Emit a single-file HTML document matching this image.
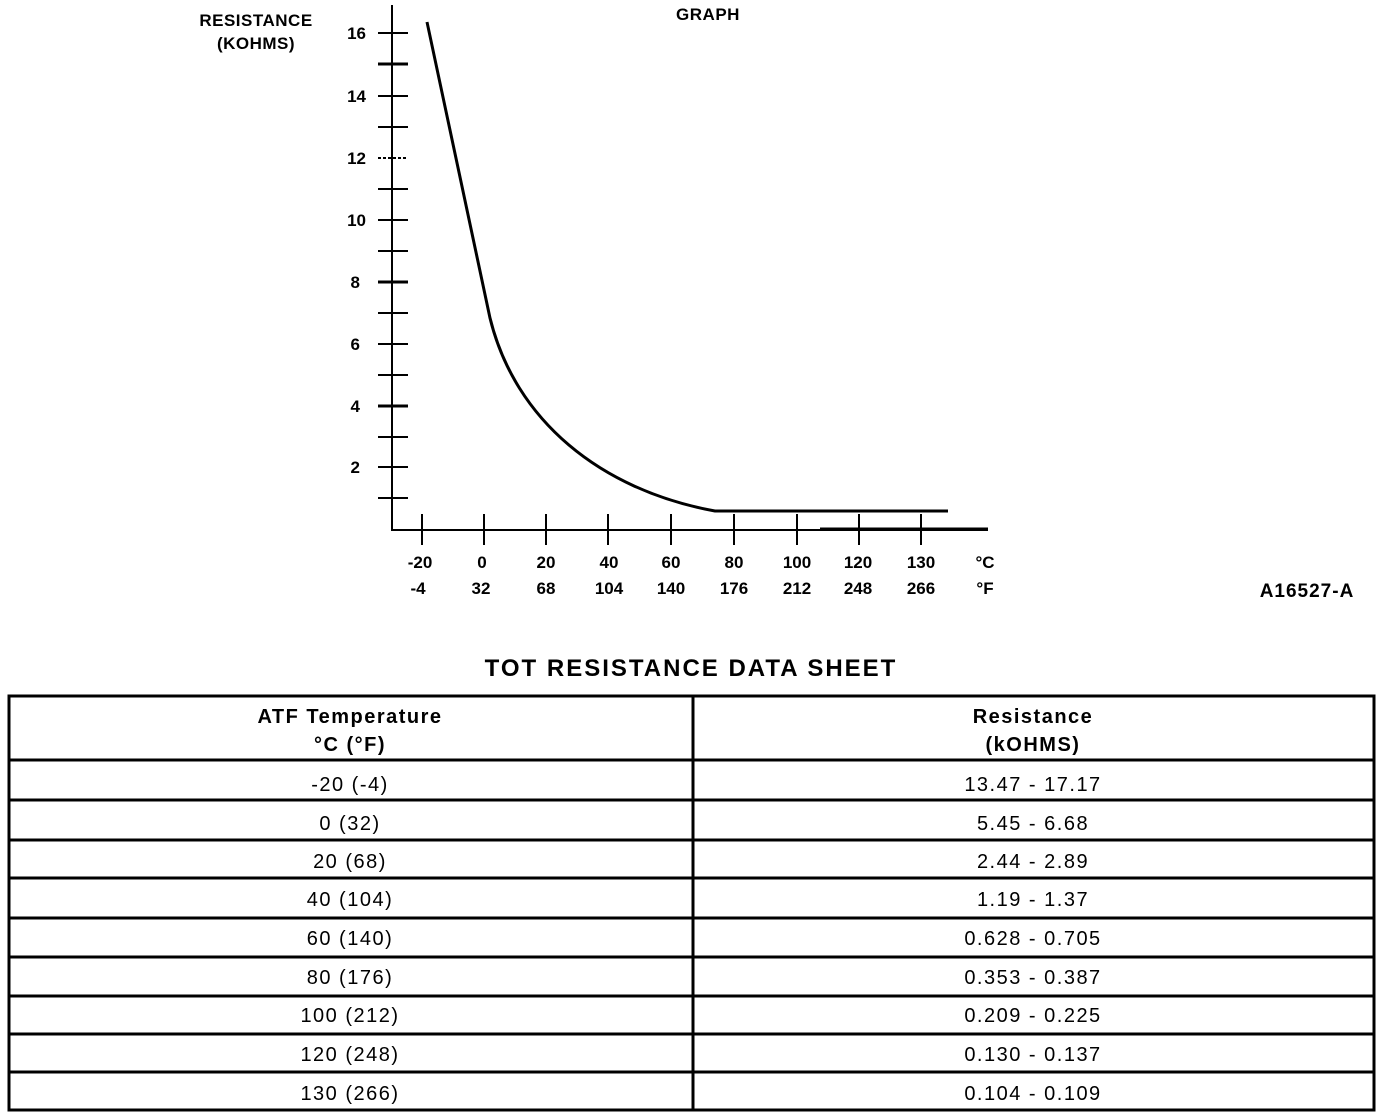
<!DOCTYPE html>
<html><head><style>
html,body{margin:0;padding:0;background:#fff;}
svg{display:block;}
text{font-family:"Liberation Sans",sans-serif;fill:#000;}
</style></head><body>
<svg width="1392" height="1120" viewBox="0 0 1392 1120" xmlns="http://www.w3.org/2000/svg">
<g font-size="17" font-weight="bold" letter-spacing="0.5">
<text x="256" y="26" text-anchor="middle">RESISTANCE</text>
<text x="256" y="49" text-anchor="middle">(KOHMS)</text>
<text x="708" y="20" text-anchor="middle">GRAPH</text>
</g>
<g stroke="#000" stroke-width="2" fill="none">
<line x1="392" y1="5" x2="392" y2="531"/>
<line x1="391" y1="530" x2="988" y2="530"/>
<line x1="378" y1="33" x2="408" y2="33"/>
<line x1="378" y1="64" x2="408" y2="64" stroke-width="3"/>
<line x1="378" y1="96" x2="408" y2="96"/>
<line x1="378" y1="127" x2="408" y2="127"/>
<line x1="378" y1="158" x2="408" y2="158" stroke-dasharray="3,2"/>
<line x1="378" y1="189" x2="408" y2="189"/>
<line x1="378" y1="220" x2="408" y2="220"/>
<line x1="378" y1="251" x2="408" y2="251"/>
<line x1="378" y1="282" x2="408" y2="282" stroke-width="3"/>
<line x1="378" y1="313" x2="408" y2="313"/>
<line x1="378" y1="344" x2="408" y2="344"/>
<line x1="378" y1="375" x2="408" y2="375"/>
<line x1="378" y1="406" x2="408" y2="406" stroke-width="3"/>
<line x1="378" y1="437" x2="408" y2="437"/>
<line x1="378" y1="467" x2="408" y2="467"/>
<line x1="378" y1="498" x2="408" y2="498"/>
<line x1="422" y1="514" x2="422" y2="545"/>
<line x1="484" y1="514" x2="484" y2="545"/>
<line x1="546" y1="514" x2="546" y2="545"/>
<line x1="608" y1="514" x2="608" y2="545"/>
<line x1="671" y1="514" x2="671" y2="545"/>
<line x1="734" y1="514" x2="734" y2="545"/>
<line x1="797" y1="514" x2="797" y2="545"/>
<line x1="859" y1="514" x2="859" y2="545"/>
<line x1="921" y1="514" x2="921" y2="545"/>
<line x1="820" y1="529" x2="988" y2="529" stroke-width="3"/>
<path d="M427,22 L490,318 C515,420 600,490 715,511 L948,511" stroke-width="3"/>
</g>
<g font-size="17" font-weight="bold" text-anchor="end">
<text x="366" y="39">16</text><text x="366" y="102">14</text><text x="366" y="164">12</text>
<text x="366" y="226">10</text><text x="360" y="288">8</text><text x="360" y="350">6</text>
<text x="360" y="412">4</text><text x="360" y="473">2</text>
</g>
<g font-size="17" font-weight="bold" text-anchor="middle">
<text x="420" y="568">-20</text><text x="482" y="568">0</text><text x="546" y="568">20</text>
<text x="609" y="568">40</text><text x="671" y="568">60</text><text x="734" y="568">80</text>
<text x="797" y="568">100</text><text x="858" y="568">120</text><text x="921" y="568">130</text>
<text x="985" y="568">°C</text>
<text x="418" y="594">-4</text><text x="481" y="594">32</text><text x="546" y="594">68</text>
<text x="609" y="594">104</text><text x="671" y="594">140</text><text x="734" y="594">176</text>
<text x="797" y="594">212</text><text x="858" y="594">248</text><text x="921" y="594">266</text>
<text x="985" y="594">°F</text>
<text x="1307" y="597" font-size="19" letter-spacing="1">A16527-A</text>
<text x="691" y="676" font-size="24" letter-spacing="2">TOT RESISTANCE DATA SHEET</text>
</g>
<g stroke="#000" stroke-width="3" fill="none">
<rect x="9" y="696" width="1365" height="414"/>
<line x1="693" y1="696" x2="693" y2="1110"/>
<line x1="9" y1="760" x2="1374" y2="760"/>
<line x1="9" y1="800" x2="1374" y2="800"/>
<line x1="9" y1="840" x2="1374" y2="840"/>
<line x1="9" y1="878" x2="1374" y2="878"/>
<line x1="9" y1="918" x2="1374" y2="918"/>
<line x1="9" y1="957" x2="1374" y2="957"/>
<line x1="9" y1="996" x2="1374" y2="996"/>
<line x1="9" y1="1034" x2="1374" y2="1034"/>
<line x1="9" y1="1072" x2="1374" y2="1072"/>
</g>
<g font-size="20" text-anchor="middle" letter-spacing="1.5">
<text x="350" y="723" font-weight="bold">ATF Temperature</text>
<text x="350" y="751" font-weight="bold">°C (°F)</text>
<text x="1033" y="723" font-weight="bold">Resistance</text>
<text x="1033" y="751" font-weight="bold">(kOHMS)</text>
<text x="350" y="791">-20 (-4)</text><text x="1033" y="791">13.47 - 17.17</text>
<text x="350" y="830">0 (32)</text><text x="1033" y="830">5.45 - 6.68</text>
<text x="350" y="868">20 (68)</text><text x="1033" y="868">2.44 - 2.89</text>
<text x="350" y="906">40 (104)</text><text x="1033" y="906">1.19 - 1.37</text>
<text x="350" y="945">60 (140)</text><text x="1033" y="945">0.628 - 0.705</text>
<text x="350" y="984">80 (176)</text><text x="1033" y="984">0.353 - 0.387</text>
<text x="350" y="1022">100 (212)</text><text x="1033" y="1022">0.209 - 0.225</text>
<text x="350" y="1061">120 (248)</text><text x="1033" y="1061">0.130 - 0.137</text>
<text x="350" y="1100">130 (266)</text><text x="1033" y="1100">0.104 - 0.109</text>
</g>
</svg>
</body></html>
